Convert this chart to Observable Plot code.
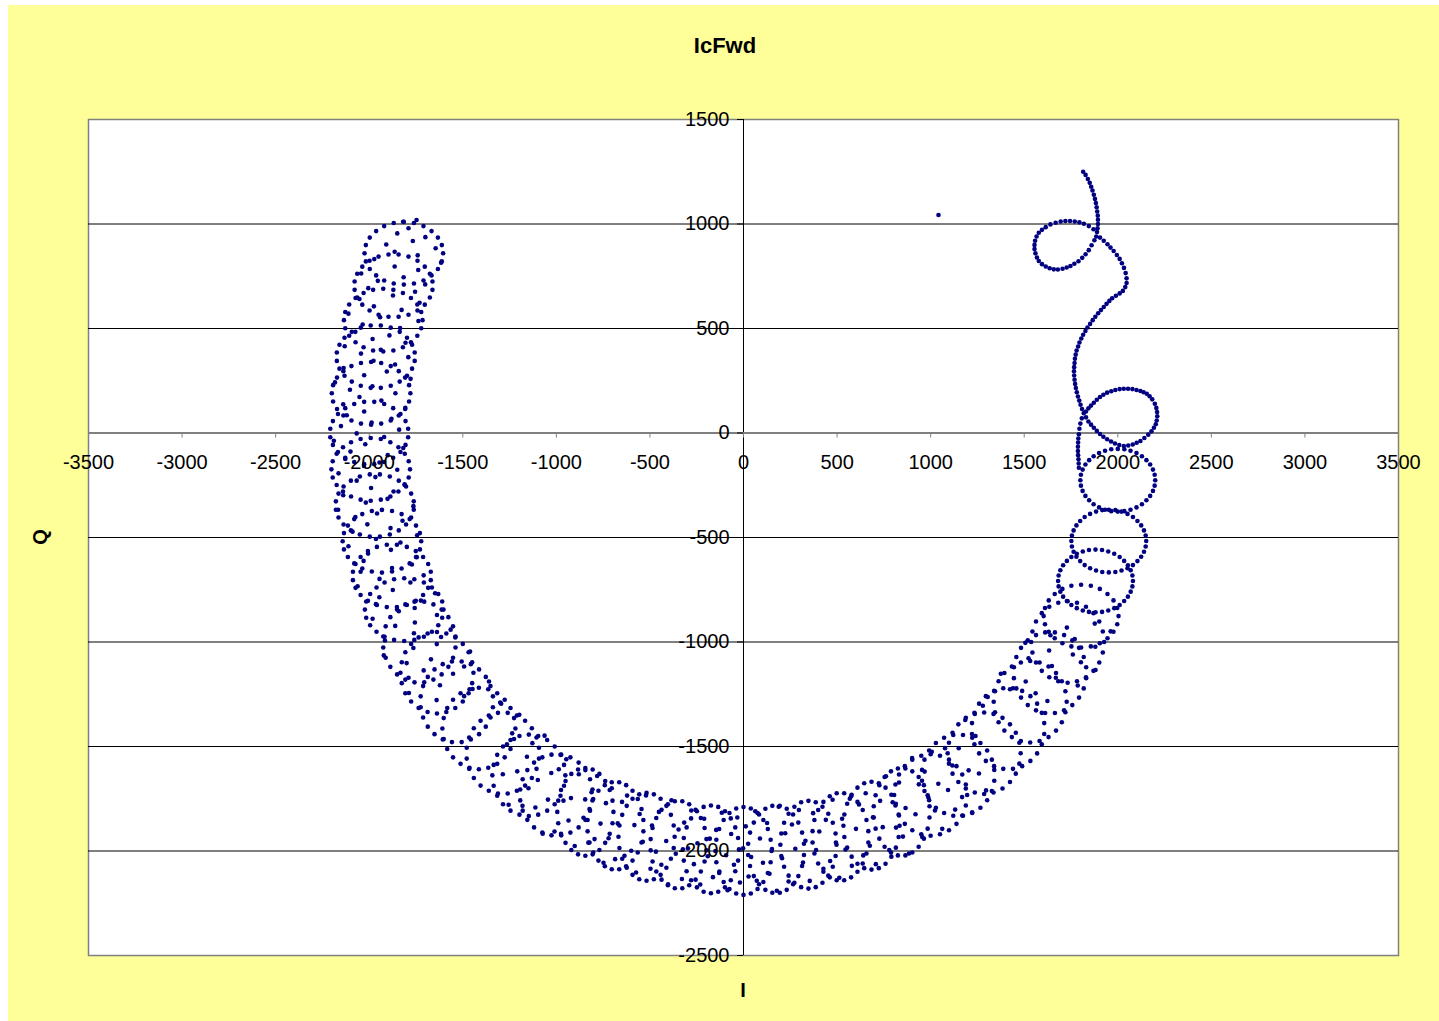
<!DOCTYPE html>
<html><head><meta charset="utf-8">
<script src="https://cdn.jsdelivr.net/npm/d3@7"></script>
<script src="https://cdn.jsdelivr.net/npm/@observablehq/plot@0.6"></script>
<style>
html,body{margin:0;padding:0;background:#fff;width:1439px;height:1021px;overflow:hidden;}
#bg{position:absolute;left:8px;top:5px;width:1431px;height:1016px;background:#ffff99;}
#chart{position:absolute;left:0;top:0;}
.lbl{position:absolute;font-family:"Liberation Sans",Arial,sans-serif;font-weight:bold;font-size:20px;line-height:1;transform:translate(-50%,-50%);color:#000;white-space:nowrap;}
#title{left:725px;top:46px;font-size:22px;}
#ylab{left:40px;top:537px;transform:translate(-50%,-50%) rotate(-90deg);}
#xlab{left:743px;top:990px;}
</style></head><body>
<div id="bg"></div>
<div id="chart"></div>
<div class="lbl" id="title">IcFwd</div>
<div class="lbl" id="ylab">Q</div>
<div class="lbl" id="xlab">I</div>
<script>
const titleText = "IcFwd";
const xLabel = "I";
const yLabel = "Q";
const xTicks = [-3500,-3000,-2500,-2000,-1500,-1000,-500,0,500,1000,1500,2000,2500,3000,3500];
const yTicks = [-2500,-2000,-1500,-1000,-500,0,500,1000,1500];

// dense start trail (upper right), [I, Q]
const trail = [
[1815,1250],[1828,1235],[1840,1215],[1850,1197],[1858,1178],[1865,1160],[1872,1140],[1878,1120],[1883,1100],[1887,1080],[1890,1060],[1893,1040],[1894,1020],[1894,1000],[1892,980],[1889,962],
[1870,975],[1845,990],[1819,1001],[1795,1008],[1770,1012],[1745,1014],[1720,1014],[1695,1012],[1668,1006],[1640,998],[1615,985],[1595,972],[1578,958],[1566,940],[1558,920],[1555,900],[1555,880],[1560,860],[1568,840],[1578,823],[1595,808],[1615,797],[1636,788],[1658,783],[1680,782],[1705,786],[1727,792],[1747,799],[1768,810],[1790,822],[1810,838],[1828,855],[1845,875],[1860,898],[1875,922],[1885,940],
[1905,935],[1925,920],[1945,903],[1961,887],[1978,871],[1995,852],[2010,833],[2022,812],[2033,790],[2042,765],[2047,740],[2047,718],[2040,698],[2027,680],[2010,668],[1990,657],[1970,645],[1955,632],[1940,618],[1925,603],[1910,588],[1895,573],[1880,556],[1866,540],[1852,522],[1838,505],[1827,488],[1815,470],[1805,452],[1795,433],[1788,414],[1780,395],[1775,375],[1771,355],[1769,335],[1767,315],[1766,295],[1767,275],[1769,255],[1772,235],[1776,215],[1781,195],[1787,175],[1794,155],[1801,135],[1809,115],[1818,95],
[1830,75],[1843,55],[1857,40],[1872,25],[1888,10],[1905,-5],[1923,-18],[1943,-30],[1964,-41],[1985,-50],[2008,-58],[2032,-62],[2056,-60],[2080,-55],[2101,-47],[2121,-38],[2142,-24],[2163,-8],[2180,8],[2193,25],[2203,42],[2208,60],[2211,80],[2210,100],[2206,120],[2198,140],[2184,161],[2170,176],[2155,188],[2138,195],[2121,201],[2100,206],[2078,210],[2055,212],[2032,212],[2010,210],[1987,206],[1965,200],[1943,193],[1923,183],[1905,172],[1888,159],[1872,145],[1857,131],[1843,118],[1830,103],
[1808,70],[1800,45],[1795,20],[1792,-6],[1789,-26],[1788,-46],[1787,-66],[1787,-86],[1788,-106],[1790,-126],[1791,-146],[1792,-166]
];

// loops on the right side
const rightLoops = [
[2200,-226],[2197,-200],[2188,-175],[2173,-151],[2153,-130],[2129,-111],[2100,-96],[2068,-85],[2035,-78],[2000,-76],[1965,-78],[1932,-85],[1900,-96],[1871,-111],[1847,-130],[1827,-151],[1812,-175],[1803,-200],[1800,-226],[1803,-252],[1812,-277],[1827,-301],[1847,-322],[1871,-341],[1900,-356],[1932,-367],[1965,-374],[2000,-376],[2035,-374],[2068,-367],[2100,-356],[2129,-341],[2153,-322],[2173,-301],[2188,-277],[2197,-252],
[2152,-517],[2149,-491],[2140,-466],[2125,-442],[2105,-421],[2081,-402],[2052,-387],[2020,-376],[1987,-369],[1952,-367],[1917,-369],[1884,-376],[1852,-387],[1823,-402],[1799,-421],[1779,-442],[1764,-466],[1755,-491],[1752,-517],[1755,-543],[1764,-568],[1779,-592],[1799,-613],[1823,-632],[1852,-647],[1884,-658],[1917,-665],[1952,-667],[1987,-665],[2020,-658],[2052,-647],[2081,-632],[2105,-613],[2125,-592],[2140,-568],[2149,-543],
[2081,-708],[2078,-682],[2069,-657],[2054,-633],[2034,-612],[2010,-593],[1981,-578],[1949,-567],[1916,-560],[1881,-558],[1846,-560],[1813,-567],[1781,-578],[1752,-593],[1728,-612],[1708,-633],[1693,-657],[1684,-682],[1681,-708],[1684,-734],[1693,-759],[1708,-783],[1728,-804],[1752,-823],[1781,-838],[1813,-849],[1846,-856],[1881,-858],[1916,-856],[1949,-849],[1981,-838],[2010,-823],[2034,-804],[2054,-783],[2069,-759],[2078,-734],
[2004,-876],[1997,-837],[1977,-801],[1945,-770],[1904,-746],[1856,-731],[1804,-726],[1752,-731],[1704,-746],[1663,-770],[1631,-801],[1611,-837],[1604,-876],[1611,-915],[1631,-951],[1663,-982],[1704,-1006],[1752,-1021],[1804,-1026],[1856,-1021],[1904,-1006],[1945,-982],[1977,-951],[1997,-915]
];

// band, lower right to bottom
const bandBottom = [
[1927,-1000],[1537,-1000],[1732,-805],[1732,-1195],[1920,-950],[1920,-1050],[1544,-950],[1544,-1050],[1901,-902],[1901,-1098],[1563,-902],[1563,-1098],[1870,-862],[1870,-1138],[1594,-862],[1594,-1138],[1830,-831],[1830,-1169],[1634,-831],[1634,-1169],[1782,-812],[1782,-1188],[1682,-812],[1682,-1188],
[1831,-1121],[1831,-1173],[1445,-1121],[1445,-1173],[1818,-1072],[1818,-1222],[1458,-1072],[1458,-1222],[1793,-1028],[1793,-1266],[1483,-1028],[1483,-1266],[1757,-992],[1757,-1302],[1519,-992],[1519,-1302],[1713,-967],[1713,-1327],[1563,-967],[1563,-1327],[1664,-954],[1664,-1340],[1612,-954],[1612,-1340],
[1727,-1286],[1337,-1286],[1532,-1091],[1532,-1481],[1720,-1236],[1720,-1336],[1344,-1236],[1344,-1336],[1701,-1188],[1701,-1384],[1363,-1188],[1363,-1384],[1670,-1148],[1670,-1424],[1394,-1148],[1394,-1424],[1630,-1117],[1630,-1455],[1434,-1117],[1434,-1455],[1582,-1098],[1582,-1474],[1482,-1098],[1482,-1474],
[1607,-1388],[1607,-1440],[1221,-1388],[1221,-1440],[1594,-1339],[1594,-1489],[1234,-1339],[1234,-1489],[1569,-1295],[1569,-1533],[1259,-1295],[1259,-1533],[1533,-1259],[1533,-1569],[1295,-1259],[1295,-1569],[1489,-1234],[1489,-1594],[1339,-1234],[1339,-1594],[1440,-1221],[1440,-1607],[1388,-1221],[1388,-1607],
[1481,-1532],[1091,-1532],[1286,-1337],[1286,-1727],[1474,-1482],[1474,-1582],[1098,-1482],[1098,-1582],[1455,-1434],[1455,-1630],[1117,-1434],[1117,-1630],[1424,-1394],[1424,-1670],[1148,-1394],[1148,-1670],[1384,-1363],[1384,-1701],[1188,-1363],[1188,-1701],[1336,-1344],[1336,-1720],[1236,-1344],[1236,-1720],
[1340,-1612],[1340,-1664],[954,-1612],[954,-1664],[1327,-1563],[1327,-1713],[967,-1563],[967,-1713],[1302,-1519],[1302,-1757],[992,-1519],[992,-1757],[1266,-1483],[1266,-1793],[1028,-1483],[1028,-1793],[1222,-1458],[1222,-1818],[1072,-1458],[1072,-1818],[1173,-1445],[1173,-1831],[1121,-1445],[1121,-1831],
[1195,-1732],[805,-1732],[1000,-1537],[1000,-1927],[1188,-1682],[1188,-1782],[812,-1682],[812,-1782],[1169,-1634],[1169,-1830],[831,-1634],[831,-1830],[1138,-1594],[1138,-1870],[862,-1594],[862,-1870],[1098,-1563],[1098,-1901],[902,-1563],[902,-1901],[1050,-1544],[1050,-1920],[950,-1544],[950,-1920],
[994,-1786],[994,-1840],[696,-1786],[696,-1840],[984,-1733],[984,-1893],[706,-1733],[706,-1893],[964,-1685],[964,-1941],[726,-1685],[726,-1941],[936,-1646],[936,-1980],[754,-1646],[754,-1980],[902,-1619],[902,-2007],[788,-1619],[788,-2007],[865,-1605],[865,-2021],[825,-1605],[825,-2021],
[834,-1879],[534,-1879],[684,-1669],[684,-2089],[829,-1825],[829,-1933],[539,-1825],[539,-1933],[814,-1774],[814,-1984],[554,-1774],[554,-1984],[790,-1731],[790,-2027],[578,-1731],[578,-2027],[759,-1697],[759,-2061],[609,-1697],[609,-2061],[723,-1676],[723,-2082],[645,-1676],[645,-2082],
[667,-1905],[667,-1959],[369,-1905],[369,-1959],[657,-1852],[657,-2012],[379,-1852],[379,-2012],[637,-1804],[637,-2060],[399,-1804],[399,-2060],[609,-1765],[609,-2099],[427,-1765],[427,-2099],[575,-1738],[575,-2126],[461,-1738],[461,-2126],[538,-1724],[538,-2140],[498,-1724],[498,-2140],
[497,-1970],[197,-1970],[347,-1760],[347,-2180],[492,-1916],[492,-2024],[202,-1916],[202,-2024],[477,-1865],[477,-2075],[217,-1865],[217,-2075],[453,-1822],[453,-2118],[241,-1822],[241,-2118],[422,-1788],[422,-2152],[272,-1788],[272,-2152],[386,-1767],[386,-2173],[308,-1767],[308,-2173],
[323,-1965],[323,-2019],[25,-1965],[25,-2019],[313,-1912],[313,-2072],[35,-1912],[35,-2072],[293,-1864],[293,-2120],[55,-1864],[55,-2120],[265,-1825],[265,-2159],[83,-1825],[83,-2159],[231,-1798],[231,-2186],[117,-1798],[117,-2186],[194,-1784],[194,-2200],[154,-1784],[154,-2200],
[150,-2000],[-150,-2000],[0,-1790],[0,-2210],[145,-1946],[145,-2054],[-145,-1946],[-145,-2054],[130,-1895],[130,-2105],[-130,-1895],[-130,-2105],[106,-1852],[106,-2148],[-106,-1852],[-106,-2148],[75,-1818],[75,-2182],[-75,-1818],[-75,-2182],[39,-1797],[39,-2203],[-39,-1797],[-39,-2203],
[-24,-1992],[-324,-1992],[-174,-1782],[-174,-2202],[-29,-1938],[-29,-2046],[-319,-1938],[-319,-2046],[-44,-1887],[-44,-2097],[-304,-1887],[-304,-2097],[-68,-1844],[-68,-2140],[-280,-1844],[-280,-2140],[-99,-1810],[-99,-2174],[-249,-1810],[-249,-2174],[-135,-1789],[-135,-2195],[-213,-1789],[-213,-2195],
[-198,-1943],[-198,-1997],[-496,-1943],[-496,-1997],[-208,-1890],[-208,-2050],[-486,-1890],[-486,-2050],[-228,-1842],[-228,-2098],[-466,-1842],[-466,-2098],[-256,-1803],[-256,-2137],[-438,-1803],[-438,-2137],[-290,-1776],[-290,-2164],[-404,-1776],[-404,-2164],[-327,-1762],[-327,-2178],[-367,-1762],[-367,-2178],
[-368,-1932],[-668,-1932],[-518,-1722],[-518,-2142],[-373,-1878],[-373,-1986],[-663,-1878],[-663,-1986],[-388,-1827],[-388,-2037],[-648,-1827],[-648,-2037],[-412,-1784],[-412,-2080],[-624,-1784],[-624,-2080],[-443,-1750],[-443,-2114],[-593,-1750],[-593,-2114],[-479,-1729],[-479,-2135],[-557,-1729],[-557,-2135],
[-535,-1852],[-535,-1906],[-833,-1852],[-833,-1906],[-545,-1799],[-545,-1959],[-823,-1799],[-823,-1959],[-565,-1751],[-565,-2007],[-803,-1751],[-803,-2007],[-593,-1712],[-593,-2046],[-775,-1712],[-775,-2046],[-627,-1685],[-627,-2073],[-741,-1685],[-741,-2073],[-664,-1671],[-664,-2087],[-704,-1671],[-704,-2087],
[-695,-1813],[-995,-1813],[-845,-1603],[-845,-2023],[-700,-1759],[-700,-1867],[-990,-1759],[-990,-1867],[-715,-1708],[-715,-1918],[-975,-1708],[-975,-1918],[-739,-1665],[-739,-1961],[-951,-1665],[-951,-1961],[-770,-1631],[-770,-1995],[-920,-1631],[-920,-1995],[-806,-1610],[-806,-2016],[-884,-1610],[-884,-2016]
];

// band, lower left up the left side
const bandLeft = [
[-807,-1706],[-807,-1758],[-1193,-1706],[-1193,-1758],[-820,-1657],[-820,-1807],[-1180,-1657],[-1180,-1807],[-845,-1613],[-845,-1851],[-1155,-1613],[-1155,-1851],[-881,-1577],[-881,-1887],[-1119,-1577],[-1119,-1887],[-925,-1552],[-925,-1912],[-1075,-1552],[-1075,-1912],[-974,-1539],[-974,-1925],[-1026,-1539],[-1026,-1925],
[-952,-1638],[-1342,-1638],[-1147,-1443],[-1147,-1833],[-959,-1588],[-959,-1688],[-1335,-1588],[-1335,-1688],[-978,-1540],[-978,-1736],[-1316,-1540],[-1316,-1736],[-1009,-1500],[-1009,-1776],[-1285,-1500],[-1285,-1776],[-1049,-1469],[-1049,-1807],[-1245,-1469],[-1245,-1807],[-1097,-1450],[-1097,-1826],[-1197,-1450],[-1197,-1826],
[-1093,-1506],[-1093,-1558],[-1479,-1506],[-1479,-1558],[-1106,-1457],[-1106,-1607],[-1466,-1457],[-1466,-1607],[-1131,-1413],[-1131,-1651],[-1441,-1413],[-1441,-1651],[-1167,-1377],[-1167,-1687],[-1405,-1377],[-1405,-1687],[-1211,-1352],[-1211,-1712],[-1361,-1352],[-1361,-1712],[-1260,-1339],[-1260,-1725],[-1312,-1339],[-1312,-1725],
[-1219,-1414],[-1609,-1414],[-1414,-1219],[-1414,-1609],[-1226,-1364],[-1226,-1464],[-1602,-1364],[-1602,-1464],[-1245,-1316],[-1245,-1512],[-1583,-1316],[-1583,-1512],[-1276,-1276],[-1276,-1552],[-1552,-1276],[-1552,-1552],[-1316,-1245],[-1316,-1583],[-1512,-1245],[-1512,-1583],[-1364,-1226],[-1364,-1602],[-1464,-1226],[-1464,-1602],
[-1339,-1260],[-1339,-1312],[-1725,-1260],[-1725,-1312],[-1352,-1211],[-1352,-1361],[-1712,-1211],[-1712,-1361],[-1377,-1167],[-1377,-1405],[-1687,-1167],[-1687,-1405],[-1413,-1131],[-1413,-1441],[-1651,-1131],[-1651,-1441],[-1457,-1106],[-1457,-1466],[-1607,-1106],[-1607,-1466],[-1506,-1093],[-1506,-1479],[-1558,-1093],[-1558,-1479],
[-1443,-1147],[-1833,-1147],[-1638,-952],[-1638,-1342],[-1450,-1097],[-1450,-1197],[-1826,-1097],[-1826,-1197],[-1469,-1049],[-1469,-1245],[-1807,-1049],[-1807,-1245],[-1500,-1009],[-1500,-1285],[-1776,-1009],[-1776,-1285],[-1540,-978],[-1540,-1316],[-1736,-978],[-1736,-1316],[-1588,-959],[-1588,-1335],[-1688,-959],[-1688,-1335],
[-1539,-974],[-1539,-1026],[-1925,-974],[-1925,-1026],[-1552,-925],[-1552,-1075],[-1912,-925],[-1912,-1075],[-1577,-881],[-1577,-1119],[-1887,-881],[-1887,-1119],[-1613,-845],[-1613,-1155],[-1851,-845],[-1851,-1155],[-1657,-820],[-1657,-1180],[-1807,-820],[-1807,-1180],[-1706,-807],[-1706,-1193],[-1758,-807],[-1758,-1193],
[-1603,-845],[-2023,-845],[-1813,-695],[-1813,-995],[-1610,-806],[-1610,-884],[-2016,-806],[-2016,-884],[-1631,-770],[-1631,-920],[-1995,-770],[-1995,-920],[-1665,-739],[-1665,-951],[-1961,-739],[-1961,-951],[-1708,-715],[-1708,-975],[-1918,-715],[-1918,-975],[-1759,-700],[-1759,-990],[-1867,-700],[-1867,-990],
[-1671,-664],[-1671,-704],[-2087,-664],[-2087,-704],[-1685,-627],[-1685,-741],[-2073,-627],[-2073,-741],[-1712,-593],[-1712,-775],[-2046,-593],[-2046,-775],[-1751,-565],[-1751,-803],[-2007,-565],[-2007,-803],[-1799,-545],[-1799,-823],[-1959,-545],[-1959,-823],[-1852,-535],[-1852,-833],[-1906,-535],[-1906,-833],
[-1722,-518],[-2142,-518],[-1932,-368],[-1932,-668],[-1729,-479],[-1729,-557],[-2135,-479],[-2135,-557],[-1750,-443],[-1750,-593],[-2114,-443],[-2114,-593],[-1784,-412],[-1784,-624],[-2080,-412],[-2080,-624],[-1827,-388],[-1827,-648],[-2037,-388],[-2037,-648],[-1878,-373],[-1878,-663],[-1986,-373],[-1986,-663],
[-1762,-327],[-1762,-367],[-2178,-327],[-2178,-367],[-1776,-290],[-1776,-404],[-2164,-290],[-2164,-404],[-1803,-256],[-1803,-438],[-2137,-256],[-2137,-438],[-1842,-228],[-1842,-466],[-2098,-228],[-2098,-466],[-1890,-208],[-1890,-486],[-2050,-208],[-2050,-486],[-1943,-198],[-1943,-496],[-1997,-198],[-1997,-496],
[-1782,-174],[-2202,-174],[-1992,-24],[-1992,-324],[-1789,-135],[-1789,-213],[-2195,-135],[-2195,-213],[-1810,-99],[-1810,-249],[-2174,-99],[-2174,-249],[-1844,-68],[-1844,-280],[-2140,-68],[-2140,-280],[-1887,-44],[-1887,-304],[-2097,-44],[-2097,-304],[-1938,-29],[-1938,-319],[-2046,-29],[-2046,-319],
[-1792,20],[-1792,-20],[-2208,20],[-2208,-20],[-1806,57],[-1806,-57],[-2194,57],[-2194,-57],[-1833,91],[-1833,-91],[-2167,91],[-2167,-91],[-1872,119],[-1872,-119],[-2128,119],[-2128,-119],[-1920,139],[-1920,-139],[-2080,139],[-2080,-139],[-1973,149],[-1973,-149],[-2027,149],[-2027,-149],
[-1780,190],[-2200,190],[-1990,340],[-1990,40],[-1787,229],[-1787,151],[-2193,229],[-2193,151],[-1808,265],[-1808,115],[-2172,265],[-2172,115],[-1842,296],[-1842,84],[-2138,296],[-2138,84],[-1885,320],[-1885,60],[-2095,320],[-2095,60],[-1936,335],[-1936,45],[-2044,335],[-2044,45],
[-1757,385],[-1757,345],[-2173,385],[-2173,345],[-1771,422],[-1771,308],[-2159,422],[-2159,308],[-1798,456],[-1798,274],[-2132,456],[-2132,274],[-1837,484],[-1837,246],[-2093,484],[-2093,246],[-1885,504],[-1885,226],[-2045,504],[-2045,226],[-1938,514],[-1938,216],[-1992,514],[-1992,216],
[-1715,540],[-2135,540],[-1925,690],[-1925,390],[-1722,579],[-1722,501],[-2128,579],[-2128,501],[-1743,615],[-1743,465],[-2107,615],[-2107,465],[-1777,646],[-1777,434],[-2073,646],[-2073,434],[-1820,670],[-1820,410],[-2030,670],[-2030,410],[-1871,685],[-1871,395],[-1979,685],[-1979,395],
[-1662,725],[-1662,685],[-2078,725],[-2078,685],[-1676,762],[-1676,648],[-2064,762],[-2064,648],[-1703,796],[-1703,614],[-2037,796],[-2037,614],[-1742,824],[-1742,586],[-1998,824],[-1998,586],[-1790,844],[-1790,566],[-1950,844],[-1950,566],[-1843,854],[-1843,556],[-1897,854],[-1897,556],
[-1605,860],[-2025,860],[-1815,1010],[-1815,710],[-1612,899],[-1612,821],[-2018,899],[-2018,821],[-1633,935],[-1633,785],[-1997,935],[-1997,785],[-1667,966],[-1667,754],[-1963,966],[-1963,754],[-1710,990],[-1710,730],[-1920,990],[-1920,730],[-1761,1005],[-1761,715],[-1869,1005],[-1869,715]
];

// loose points filling the bottom of the band
const scatterBottom = [
[-1300,-1290],[-1286,-1633],[-1264,-1489],[-1255,-1779],[-1236,-1437],[-1209,-1619],[-1198,-1348],[-1181,-1784],[-1157,-1549],[-1149,-1700],[-1128,-1484],[-1112,-1792],[-1099,-1660],[-1073,-1917],[-1063,-1448],[-1045,-1754],[-1027,-1627],[-1010,-1907],[-987,-1609],[-962,-1759],[-947,-1561],[-935,-1854],[-922,-1747],[-902,-1976],[-880,-1633],[-855,-1841],[-846,-1753],[-829,-1960],[-812,-1719],[-796,-1943],[-782,-1641],[-764,-1869],[-748,-2056],[-735,-1771],[-721,-1939],[-704,-1700],[-686,-2039],[-672,-1868],[-649,-1765],[-636,-2023],
[-622,-1735],[-600,-1999],[-583,-1876],[-574,-2103],[-555,-1823],[-538,-1956],[-521,-1734],[-497,-2085],[-489,-1878],[-468,-2003],[-452,-1813],[-439,-2066],[-413,-1952],[-403,-2159],[-385,-1757],[-362,-2013],[-347,-1897],[-329,-2134],[-317,-1864],[-297,-1987],[-279,-1806],[-265,-2063],[-246,-1963],[-231,-2160],[-210,-1846],[-191,-2025],[-180,-1941],[-163,-2125],[-146,-1899],[-129,-2098],[-116,-1817],[-93,-2020],[-85,-2188],[-66,-1919],[-51,-2066],[-33,-1840],[-19,-2151],[-2,-1987],[12,-1882],[27,-2122],
[41,-2029],[63,-1810],[71,-2142],[88,-1940],[104,-2056],[126,-1866],[139,-2109],[152,-1991],[178,-2190],[188,-1788],[206,-2035],[223,-1915],[241,-2146],[259,-1873],[277,-1989],[296,-1804],[318,-2055],[331,-1951],[354,-2143],[372,-1819],[388,-1995],[405,-1907],[427,-2085],[440,-1851],[463,-2048],[476,-1755],[494,-1959],[512,-2128],[527,-1846],[545,-1993],[568,-1750],[579,-2071],[601,-1894],[617,-1777],[640,-2021],[653,-1724],[675,-1975],[692,-1839],[707,-2063],[730,-1760],
[744,-1886],[761,-1642],[779,-1995],[797,-1767],[815,-1888],[831,-1672],[852,-1931],[866,-1794],[884,-2012],[901,-1555],[919,-1824],[937,-1681],[955,-1933],[968,-1620],[988,-1744],[1006,-1525],[1023,-1806],[1041,-1678],[1062,-1894],[1077,-1508],[1093,-1708],[1116,-1591],[1131,-1802],[1150,-1508],[1168,-1742],[1185,-1373],[1203,-1614],[1222,-1815],[1240,-1450],[1258,-1629],[1279,-1305],[1296,-1710]
];

// loose points on the lower right part of the band
const scatterRight = [
[1877,-912],[1728,-931],[1962,-949],[1640,-968],[1770,-986],[1506,-1004],[1880,-1023],[1633,-1041],[1760,-1060],[1523,-1078],[1803,-1097],[1648,-1115],[1881,-1134],[1375,-1152],[1669,-1171],[1508,-1189],[1786,-1208],[1424,-1226],[1561,-1245],[1305,-1263],[1624,-1282]
];

// loose points filling the left side of the band
const scatterLeft = [
[-1295,-1295],[-1640,-1278],[-1493,-1259],[-1788,-1244],[-1448,-1225],[-1622,-1207],[-1360,-1189],[-1790,-1171],[-1552,-1152],[-1709,-1136],[-1493,-1117],[-1800,-1101],[-1670,-1083],[-1922,-1064],[-1461,-1046],[-1764,-1029],[-1639,-1010],[-1916,-993],[-1616,-976],[-1761,-958],[-1565,-941],[-1861,-923],[-1756,-907],[-1982,-889],[-1638,-871],[-1842,-853],[-1757,-837],[-1964,-819],[-1724,-802],[-1946,-786],[-1648,-767],[-1874,-751],[-2062,-733],[-1780,-715],[-1945,-698],[-1709,-681],[-2046,-664],[-1878,-646],[-1772,-629],[-2030,-612],
[-1746,-594],[-2006,-577],[-1884,-559],[-2111,-542],[-1833,-524],[-1964,-507],[-1744,-489],[-2089,-472],[-1886,-455],[-2010,-437],[-1822,-420],[-2074,-402],[-1958,-385],[-2166,-367],[-1764,-350],[-2018,-333],[-1902,-315],[-2139,-298],[-1870,-280],[-1990,-263],[-1811,-246],[-2067,-228],[-1967,-211],[-2164,-193],[-1850,-176],[-2028,-158],[-1945,-141],[-2128,-124],[-1901,-106],[-2100,-89],[-1818,-72],[-2021,-54],[-2189,-37],[-1920,-19],[-2067,-2],[-1840,16],[-2151,33],[-1987,50],[-1881,68],[-2120,85],
[-2027,103],[-1807,120],[-2139,137],[-1935,155],[-2052,172],[-1860,190],[-2103,207],[-1983,224],[-2183,242],[-1779,259],[-2027,276],[-1906,294],[-2137,311],[-1862,328],[-1977,346],[-1791,363],[-2044,380],[-1938,398],[-2131,415],[-1806,432],[-1982,450],[-1892,467],[-2074,484],[-1835,502],[-2035,519],[-1737,536],[-1942,554],[-2111,571],[-1827,589],[-1975,606],[-1731,623],[-2052,641],[-1873,658],[-1755,676],[-2005,693],[-1701,711],[-1954,728],[-1816,745],[-2043,763],[-1738,780],
[-1864,797],[-1616,815],[-1973,832],[-1741,850],[-1864,867],[-1645,884],[-1909,902],[-1767,919],[-1700,937],[-1850,955],[-1790,980],[-1747,1019],[-1819,1011]
];

const stray = [[1042,1043]];

const points = [...trail, ...rightLoops, ...bandBottom, ...bandLeft, ...scatterBottom, ...scatterRight, ...scatterLeft, ...stray];
const innerGrid = yTicks.filter(d => d !== -2500 && d !== 1500 && d !== 0);

const chart = Plot.plot({
  width: 1439,
  height: 1021,
  marginLeft: 88,
  marginRight: 41,
  marginTop: 119,
  marginBottom: 66,
  x: {domain: [-3500, 3500], axis: null},
  y: {domain: [-2500, 1500], axis: null},
  style: {background: "transparent", fontFamily: "'Liberation Sans', Arial, sans-serif", fontSize: "20px", color: "#000"},
  marks: [
    Plot.frame({fill: "#ffffff", stroke: "#808080", strokeWidth: 1.5}),
    Plot.ruleY(innerGrid, {y: d => d, stroke: "#000", strokeWidth: 1}),
    Plot.ruleX([0], {x: d => d, y1: () => -2500, y2: () => 1500, stroke: "#000", strokeWidth: 1}),
    Plot.ruleY([0], {y: d => d, stroke: "#808080", strokeWidth: 2}),
    Plot.ruleX(xTicks, {x: d => d, y1: () => 0, y2: () => 0, insetBottom: -5, stroke: "#808080", strokeWidth: 1}),
    Plot.ruleY(yTicks, {y: d => d, x1: () => 0, x2: () => 0, insetLeft: -6, stroke: "#000", strokeWidth: 1}),
    Plot.dot(points, {x: d => d[0], y: d => d[1], r: 2.3, fill: "#000080", stroke: "none"}),
    Plot.text(xTicks, {x: d => d, y: () => 0, dy: 30, text: d => String(d), fontSize: 20, fill: "#000"}),
    Plot.text(yTicks, {x: () => 0, y: d => d, dx: -14, textAnchor: "end", text: d => String(d), fontSize: 20, fill: "#000"})
  ]
});
document.getElementById("chart").appendChild(chart);
document.getElementById("title").textContent = titleText;
document.getElementById("xlab").textContent = xLabel;
document.getElementById("ylab").textContent = yLabel;
</script>
</body></html>
